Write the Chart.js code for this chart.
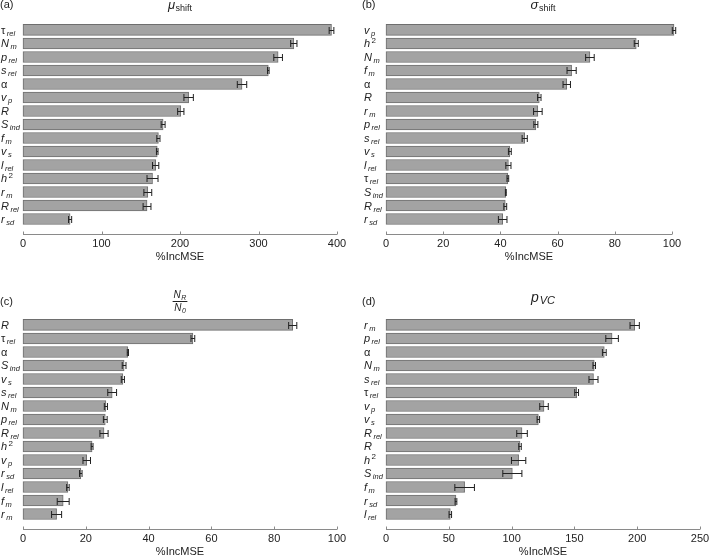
<!DOCTYPE html>
<html lang="en">
<head>
<meta charset="UTF-8">
<title>%IncMSE variable importance</title>
<script src="https://cdn.jsdelivr.net/npm/chart.js@4.4.3/dist/chart.umd.min.js"></script>
<style>
  html, body { margin: 0; padding: 0; background: #fff; width: 709px; height: 555px; overflow: hidden; position: relative; }
  canvas { position: absolute; }
</style>
</head>
<body>
<canvas id="chartA" width="354" height="280" style="left:0;top:0"></canvas>
<canvas id="chartB" width="355" height="280" style="left:354px;top:0"></canvas>
<canvas id="chartC" width="354" height="290" style="left:0;top:280px"></canvas>
<canvas id="chartD" width="370" height="290" style="left:354px;top:280px"></canvas>

<script>
// ---- data ----
// label syntax: base_sub  or  base^sup
const labelsA = ['τ_rel', 'N_m', 'p_rel', 's_rel', 'α', 'v_p', 'R', 'S_ind', 'f_m', 'v_s', 'l_rel', 'h^2', 'r_m', 'R_rel', 'r_sd'];
const valuesA = [393, 345, 325, 312.5, 279, 211, 201, 178.5, 172.5, 171, 169, 165, 159, 158, 60];
const errorsA = [3, 4, 5.5, 1, 6, 6, 4, 2.5, 2, 1, 4, 7, 5, 5, 2];
const ticksA = [0, 100, 200, 300, 400];

const labelsB = ['v_p', 'h^2', 'N_m', 'f_m', 'α', 'R', 'r_m', 'p_rel', 's_rel', 'v_s', 'l_rel', 'τ_rel', 'S_ind', 'R_rel', 'r_sd'];
const valuesB = [100.7, 87.5, 71.3, 64.9, 63.2, 53.6, 53.1, 52.4, 48.5, 43.3, 42.8, 42.6, 41.9, 41.7, 40.8];
const errorsB = [0.6, 0.7, 1.5, 1.6, 1.3, 0.6, 1.5, 0.7, 0.9, 0.5, 0.9, 0.3, 0.15, 0.5, 1.5];
const ticksB = [0, 20, 40, 60, 80, 100];

const labelsC = ['R', 'τ_rel', 'α', 'S_ind', 'v_s', 's_rel', 'N_m', 'p_rel', 'R_rel', 'h^2', 'v_p', 'r_sd', 'l_rel', 'f_m', 'r_m'];
const valuesC = [85.9, 54.1, 33.4, 32.2, 31.8, 28.4, 26.4, 26.2, 25.8, 22.0, 20.3, 18.4, 14.3, 12.8, 10.7];
const errorsC = [1.3, 0.6, 0.2, 0.6, 0.5, 1.4, 0.5, 0.6, 1.3, 0.3, 1.2, 0.4, 0.4, 1.9, 1.6];
const ticksC = [0, 20, 40, 60, 80, 100];

const labelsD = ['r_m', 'p_rel', 'α', 'N_m', 's_rel', 'τ_rel', 'v_p', 'v_s', 'R_rel', 'R', 'h^2', 'S_ind', 'f_m', 'r_sd', 'l_rel'];
const valuesD = [198, 180, 173.8, 165.8, 165.2, 151.8, 125.8, 121.3, 108.3, 106.7, 105.6, 100.6, 62.6, 55.7, 51.2];
const errorsD = [3.7, 5, 1.5, 1, 3.6, 1.5, 3.4, 1, 4.2, 1, 5.7, 7.6, 7.8, 0.7, 1];
const ticksD = [0, 50, 100, 150, 200, 250];

const xTitle = '%IncMSE';

// ---- drawing helpers ----
const FAMILY = "'Liberation Sans', Arial, Helvetica, sans-serif";
const INK = '#222';
const GREEK = /[\u0370-\u03ff]/;

function fontStr(size, italic) {
    return (italic ? 'italic ' : '') + size + 'px ' + FAMILY;
}

// base with a lowered subscript; returns total width, draws when draw is true
function subText(ctx, x, y, base, sub, o, draw) {
    ctx.font = fontStr(o.size, o.italic);
    const wb = ctx.measureText(base).width;
    ctx.font = fontStr(o.subSize, o.subItalic);
    const ws = ctx.measureText(sub).width;
    if (draw) {
        ctx.font = fontStr(o.size, o.italic);
        ctx.fillText(base, x, y);
        ctx.font = fontStr(o.subSize, o.subItalic);
        ctx.fillText(sub, x + wb + o.gap, y + o.drop);
    }
    return wb + o.gap + ws;
}

function drawRowLabel(ctx, x, y, label) {
    const m = label.match(/^(.+?)([_^])(.+)$/);
    const base = m ? m[1] : label;
    ctx.textBaseline = 'alphabetic';
    ctx.textAlign = 'left';
    ctx.font = fontStr(11, !GREEK.test(base));
    ctx.fillText(base, x, y + 4);
    if (!m) return;
    const w = ctx.measureText(base).width;
    if (m[2] === '_') {
        ctx.font = fontStr(7.5, true);
        ctx.fillText(m[3], x + w + 1.5, y + 6);
    } else {
        ctx.font = fontStr(8, false);
        ctx.fillText(m[3], x + w + 1.5, y - 0.5);
    }
}

const decor = {
    id: 'panelDecor',
    afterDatasetsDraw(chart, args, o) {
        // error bars
        const ctx = chart.ctx, xs = chart.scales.x, ys = chart.scales.y;
        ctx.save();
        ctx.strokeStyle = INK;
        ctx.lineWidth = 1;
        o.values.forEach((v, i) => {
            const y = Math.round(ys.getPixelForValue(i)) + 0.5;
            const x0 = xs.getPixelForValue(v - o.errors[i]);
            const x1 = xs.getPixelForValue(v + o.errors[i]);
            ctx.beginPath();
            ctx.moveTo(x0, y); ctx.lineTo(x1, y);
            ctx.moveTo(x0, y - 3.5); ctx.lineTo(x0, y + 3.5);
            ctx.moveTo(x1, y - 3.5); ctx.lineTo(x1, y + 3.5);
            ctx.stroke();
        });
        ctx.restore();
    },
    afterDraw(chart, args, o) {
        const ctx = chart.ctx, xs = chart.scales.x, ys = chart.scales.y;
        const area = chart.chartArea;
        ctx.save();
        // x axis line with inward ticks
        const yb = Math.round(area.bottom) + 0.5;
        ctx.strokeStyle = '#8a8a8a';
        ctx.lineWidth = 1;
        ctx.beginPath();
        ctx.moveTo(xs.getPixelForValue(o.ticks[0]), yb);
        ctx.lineTo(xs.getPixelForValue(o.ticks[o.ticks.length - 1]), yb);
        o.ticks.forEach(t => {
            const x = Math.round(xs.getPixelForValue(t)) + 0.5;
            ctx.moveTo(x, yb); ctx.lineTo(x, yb - 3);
        });
        ctx.stroke();

        // row labels
        ctx.fillStyle = INK;
        o.labels.forEach((lab, i) => drawRowLabel(ctx, o.labelX, ys.getPixelForValue(i), lab));

        // panel tag
        ctx.font = fontStr(11, false);
        ctx.textAlign = 'left';
        ctx.textBaseline = 'alphabetic';
        ctx.fillText(o.tag, o.tagX, area.top - o.tagDy);

        // panel title, centred over a 314px plot region
        const cx = area.left + 157;
        const t = o.title;
        if (t.den) {
            const w1 = subText(ctx, 0, 0, t.base, t.sub, t, false);
            const w2 = subText(ctx, 0, 0, t.den, t.denSub, t, false);
            const w = Math.max(w1, w2);
            const ly = Math.round(area.top - t.lineDy) + 0.5;
            subText(ctx, cx - w1 / 2, ly - 3.5, t.base, t.sub, t, true);
            subText(ctx, cx - w2 / 2, ly + 9, t.den, t.denSub, t, true);
            ctx.strokeStyle = INK;
            ctx.beginPath();
            ctx.moveTo(cx - w / 2 - 1, ly); ctx.lineTo(cx + w / 2 + 1, ly);
            ctx.stroke();
        } else {
            const w = subText(ctx, 0, 0, t.base, t.sub, t, false);
            subText(ctx, cx - w / 2, area.top - t.dy, t.base, t.sub, t, true);
        }
        ctx.restore();
    }
};

const Y_MIN = -0.5, Y_MAX = 15.11;

function makePanel(id, o) {
    return new Chart(document.getElementById(id), {
        type: 'bar',
        data: {
            datasets: [{
                data: o.values.map((v, i) => ({ x: v, y: i })),
                backgroundColor: '#a3a3a3',
                borderColor: '#6e6e6e',
                borderWidth: 1,
                borderSkipped: false,
                barThickness: 11,
                clip: false
            }]
        },
        options: {
            indexAxis: 'y',
            responsive: false,
            animation: false,
            events: [],
            layout: { padding: o.pad },
            plugins: {
                legend: { display: false },
                tooltip: { enabled: false },
                panelDecor: o
            },
            scales: {
                x: {
                    type: 'linear',
                    min: o.ticks[0],
                    max: o.ticks[o.ticks.length - 1],
                    afterBuildTicks: s => { s.ticks = o.ticks.map(v => ({ value: v })); },
                    grid: { display: false, drawTicks: false },
                    border: { display: false },
                    ticks: { color: INK, padding: 4, font: { family: FAMILY, size: 11, lineHeight: 1 } },
                    title: {
                        display: true, text: xTitle, color: INK,
                        font: { family: FAMILY, size: 11, lineHeight: 1 },
                        padding: { top: -2, bottom: 0 }
                    }
                },
                y: {
                    type: 'linear', reverse: true, offset: false, grace: 0,
                    min: Y_MIN, max: Y_MAX,
                    afterDataLimits: s => { s.min = Y_MIN; s.max = Y_MAX; },
                    afterBuildTicks: s => { s.ticks = o.values.map((v, i) => ({ value: i })); },
                    grid: { offset: false },
                    display: false
                }
            }
        },
        plugins: [decor]
    });
}

const topTitle = { size: 13, italic: true, subSize: 9, subItalic: false, gap: 0.5, drop: 2, dy: 14.5 };

makePanel('chartA', {
    labels: labelsA, values: valuesA, errors: errorsA, ticks: ticksA,
    pad: { left: 23, right: 17, top: 23.2, bottom: 18 },
    labelX: 1, tag: '(a)', tagX: 0, tagDy: 15,
    title: Object.assign({ base: 'μ', sub: 'shift' }, topTitle)
});
makePanel('chartB', {
    labels: labelsB, values: valuesB, errors: errorsB, ticks: ticksB,
    pad: { left: 32, right: 37, top: 23.2, bottom: 18 },
    labelX: 10, tag: '(b)', tagX: 8, tagDy: 15,
    title: Object.assign({ base: 'σ', sub: 'shift' }, topTitle)
});
makePanel('chartC', {
    labels: labelsC, values: valuesC, errors: errorsC, ticks: ticksC,
    pad: { left: 23, right: 17, top: 38.2, bottom: 13 },
    labelX: 1, tag: '(c)', tagX: 0, tagDy: 13.5,
    title: { base: 'N', sub: 'R', den: 'N', denSub: '0', size: 10, italic: true, subSize: 7, subItalic: true, gap: 0.5, drop: 2, lineDy: 17 }
});
makePanel('chartD', {
    labels: labelsD, values: valuesD, errors: errorsD, ticks: ticksD,
    pad: { left: 32, right: 24, top: 38.2, bottom: 13 },
    labelX: 10, tag: '(d)', tagX: 8, tagDy: 13.5,
    title: { base: 'p', sub: 'VC', size: 14, italic: true, subSize: 11, subItalic: true, gap: 1, drop: 1.5, dy: 16 }
});
</script>
</body>
</html>
